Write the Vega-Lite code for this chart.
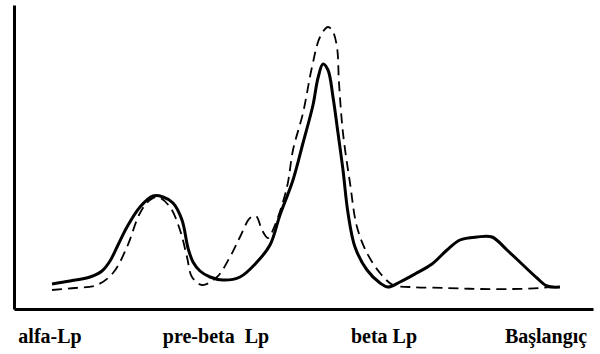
{
  "$schema": "https://vega.github.io/schema/vega-lite/v6.json",
  "width": 579,
  "height": 304,
  "autosize": "none",
  "padding": {"left": 14, "top": 5, "right": 7, "bottom": 45},
  "background": "white",
  "config": {"view": {"stroke": null}},
  "datasets": {
    "solid": [
      {"x": 52, "y": 25}, {"x": 70, "y": 28}, {"x": 90, "y": 32}, {"x": 102, "y": 38}, {"x": 110, "y": 48},
      {"x": 118, "y": 64}, {"x": 127, "y": 82}, {"x": 140, "y": 102}, {"x": 153, "y": 113}, {"x": 163, "y": 112},
      {"x": 173, "y": 106}, {"x": 182, "y": 89}, {"x": 188, "y": 61}, {"x": 193, "y": 47}, {"x": 200, "y": 38},
      {"x": 210, "y": 32}, {"x": 223, "y": 29}, {"x": 240, "y": 32}, {"x": 257, "y": 47}, {"x": 270, "y": 64},
      {"x": 280, "y": 94}, {"x": 293, "y": 129}, {"x": 303, "y": 166}, {"x": 313, "y": 204}, {"x": 318, "y": 231},
      {"x": 323, "y": 245}, {"x": 328, "y": 239}, {"x": 333, "y": 212}, {"x": 338, "y": 176}, {"x": 343, "y": 139},
      {"x": 348, "y": 96}, {"x": 355, "y": 62}, {"x": 367, "y": 39}, {"x": 380, "y": 26}, {"x": 388, "y": 22},
      {"x": 400, "y": 27}, {"x": 415, "y": 35}, {"x": 432, "y": 45}, {"x": 447, "y": 59}, {"x": 460, "y": 69},
      {"x": 477, "y": 72}, {"x": 492, "y": 72}, {"x": 507, "y": 59}, {"x": 523, "y": 44}, {"x": 537, "y": 31},
      {"x": 547, "y": 23}, {"x": 560, "y": 22}
    ],
    "dashed": [
      {"x": 52, "y": 19}, {"x": 75, "y": 21}, {"x": 97, "y": 24}, {"x": 113, "y": 36}, {"x": 127, "y": 62},
      {"x": 140, "y": 96}, {"x": 150, "y": 109}, {"x": 158, "y": 112}, {"x": 170, "y": 102}, {"x": 180, "y": 79},
      {"x": 187, "y": 52}, {"x": 192, "y": 32}, {"x": 202, "y": 24}, {"x": 217, "y": 32}, {"x": 230, "y": 52},
      {"x": 240, "y": 72}, {"x": 250, "y": 91}, {"x": 256, "y": 93}, {"x": 262, "y": 79}, {"x": 268, "y": 71},
      {"x": 275, "y": 84}, {"x": 287, "y": 122}, {"x": 293, "y": 159}, {"x": 303, "y": 196}, {"x": 312, "y": 242},
      {"x": 320, "y": 272}, {"x": 328, "y": 282}, {"x": 333, "y": 277}, {"x": 337, "y": 262}, {"x": 339, "y": 226},
      {"x": 343, "y": 176}, {"x": 350, "y": 126}, {"x": 357, "y": 82}, {"x": 367, "y": 56}, {"x": 380, "y": 36},
      {"x": 393, "y": 24}, {"x": 410, "y": 22}, {"x": 447, "y": 21}, {"x": 480, "y": 20}, {"x": 513, "y": 20},
      {"x": 540, "y": 21}, {"x": 550, "y": 22}
    ],
    "labels": [
      {"label": "alfa-Lp", "x": 50, "y": -34},
      {"label": "pre-beta\u00a0 Lp", "x": 216, "y": -34},
      {"label": "beta Lp", "x": 384, "y": -34},
      {"label": "Başlangıç", "x": 546, "y": -34}
    ]
  },
  "encoding": {
    "x": {"field": "x", "type": "quantitative", "scale": {"domain": [14, 593], "nice": false, "zero": false},
      "axis": {"title": null, "labels": false, "ticks": false, "grid": false, "domain": true, "domainColor": "black", "domainWidth": 3}},
    "y": {"field": "y", "type": "quantitative", "scale": {"domain": [0, 304], "nice": false, "zero": false},
      "axis": {"title": null, "labels": false, "ticks": false, "grid": false, "domain": true, "domainColor": "black", "domainWidth": 3}}
  },
  "layer": [
    {
      "data": {"name": "dashed"},
      "mark": {"type": "line", "interpolate": "catmull-rom", "color": "black", "strokeWidth": 1.8, "strokeDash": [10, 6]}
    },
    {
      "data": {"name": "solid"},
      "mark": {"type": "line", "interpolate": "catmull-rom", "color": "black", "strokeWidth": 3}
    },
    {
      "data": {"name": "labels"},
      "mark": {"type": "text", "font": "Liberation Serif", "fontWeight": "bold", "fontSize": 20, "align": "center", "baseline": "alphabetic", "color": "black"},
      "encoding": {"text": {"field": "label"}}
    }
  ]
}
